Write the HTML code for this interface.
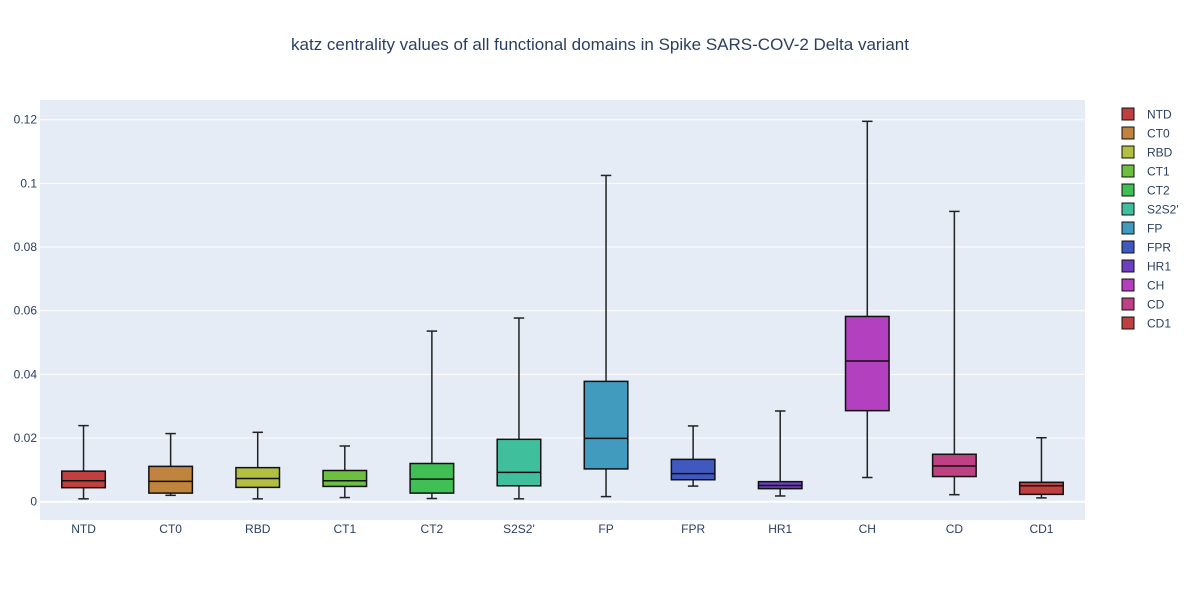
<!DOCTYPE html>
<html><head><meta charset="utf-8"><style>
body{margin:0;background:#fff;font-family:"Liberation Sans",sans-serif}
svg text{font-family:"Liberation Sans",sans-serif}
</style></head><body>
<svg id="chart" width="1200" height="600">
<rect x="40" y="100" width="1045" height="420" fill="#e5ecf6"/>
<g id="grid"></g><g id="boxes"></g><g id="legend"></g>
<text x="600" y="50" text-anchor="middle" font-size="17" fill="#2a3f5f">katz centrality values of all functional domains in Spike SARS-COV-2 Delta variant</text>
</svg>
<script>
const categories=["NTD","CT0","RBD","CT1","CT2","S2S2'","FP","FPR","HR1","CH","CD","CD1"];
const lowVals=[0.0009,0.0020,0.0009,0.0013,0.0010,0.0009,0.0016,0.0049,0.0018,0.0076,0.0022,0.0012];
const q1Vals=[0.0044,0.0027,0.0045,0.0048,0.0027,0.0050,0.0103,0.0069,0.0041,0.0286,0.0079,0.0023];
const medVals=[0.0066,0.0064,0.0073,0.0066,0.0071,0.0092,0.0199,0.0088,0.0051,0.0442,0.0112,0.0050];
const q3Vals=[0.0096,0.0111,0.0107,0.0098,0.0120,0.0196,0.0378,0.0133,0.0063,0.0582,0.0149,0.0061];
const highVals=[0.0239,0.0214,0.0218,0.0175,0.0536,0.0577,0.1025,0.0238,0.0285,0.1195,0.0912,0.0201];
const colors=["#c04040","#c0843f","#b3bf40","#6dbf40","#40bf55","#40bf9c","#409bbf","#4059bf","#6c40bf","#b340bf","#bf4083","#bf4040"];
const yTicks=[0,0.02,0.04,0.06,0.08,0.1,0.12];
const yTickLabels=["0","0.02","0.04","0.06","0.08","0.1","0.12"];
const NS="http://www.w3.org/2000/svg";
const X0=40,X1=1085,Y0=100,Y1=520,ymin=-0.00575,ymax=0.1262;
const y=v=>Y1-(v-ymin)/(ymax-ymin)*(Y1-Y0);
const bw=(X1-X0)/categories.length;
const x=i=>X0+bw*(i+0.5);
function mk(t,a,p){const e=document.createElementNS(NS,t);for(const k in a)e.setAttribute(k,a[k]);p.appendChild(e);return e;}
const grid=document.getElementById('grid');
yTicks.forEach((t,i)=>{
 const l=mk('line',{x1:X0,x2:X1,y1:y(t),y2:y(t),stroke:'#fff','stroke-width':t===0?2:1},grid);
 
 
 const tx=mk('text',{x:X0-3,y:y(t)+4,'text-anchor':'end','font-size':12,fill:'#2a3f5f'},grid);
 tx.textContent=yTickLabels[i];
 
 
});
const boxes=document.getElementById('boxes');
const legend=document.getElementById('legend');
categories.forEach((c,i)=>{
 const g=mk('g',{},boxes);
 
 
 const cx=x(i),hw=bw*0.25,cw=bw*0.06;
 mk('line',{x1:cx,x2:cx,y1:y(highVals[i]),y2:y(q3Vals[i]),stroke:'#222','stroke-width':1.5},g);
 mk('line',{x1:cx,x2:cx,y1:y(q1Vals[i]),y2:y(lowVals[i]),stroke:'#222','stroke-width':1.5},g);
 mk('line',{x1:cx-cw,x2:cx+cw,y1:y(highVals[i]),y2:y(highVals[i]),stroke:'#222','stroke-width':1.5},g);
 mk('line',{x1:cx-cw,x2:cx+cw,y1:y(lowVals[i]),y2:y(lowVals[i]),stroke:'#222','stroke-width':1.5},g);
 mk('rect',{x:cx-hw,y:y(q3Vals[i]),width:2*hw,height:y(q1Vals[i])-y(q3Vals[i]),fill:colors[i],stroke:'#111','stroke-width':1.5},g);
 mk('line',{x1:cx-hw,x2:cx+hw,y1:y(medVals[i]),y2:y(medVals[i]),stroke:'#111','stroke-width':1.5},g);
 const t=mk('text',{x:cx,y:533,'text-anchor':'middle','font-size':12,fill:'#2a3f5f'},boxes);
 t.textContent=c;
 
 
 const lg=mk('g',{},legend);
 
 
 const ly=114+i*19;
 mk('rect',{x:1122,y:ly-6,width:12,height:12,fill:colors[i],stroke:'#111','stroke-width':1},lg);
 const lt=mk('text',{x:1147,y:ly+4.5,'font-size':12,fill:'#2a3f5f'},lg);
 lt.textContent=c;
});
</script>
</body></html>
